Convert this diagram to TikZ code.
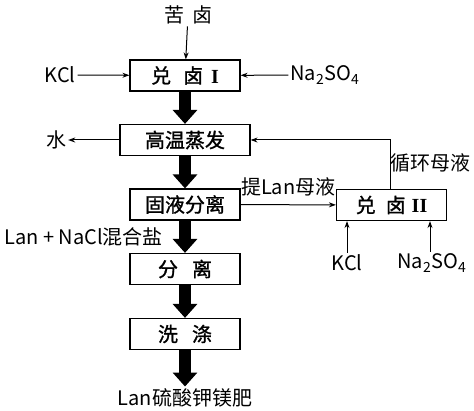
\documentclass[tikz,border=0pt]{standalone}
\usepackage{fontspec}
\setmainfont{Noto Sans CJK SC}
\newfontfamily\boxfont{Noto Sans CJK SC}[FakeBold=1.2]
\newfontfamily\romanfont{Liberation Serif}
\usetikzlibrary{arrows.meta}

\begin{document}
\begin{tikzpicture}[x=1pt,y=-1pt,>={Stealth[length=7pt,width=5pt]},
box/.style={draw,line width=1.2pt,minimum width=110pt,minimum height=31pt,inner sep=0pt,font=\fontsize{20}{24}\boxfont},
lbl/.style={inner sep=2pt,font=\fontsize{20}{24}\selectfont},
fat/.style={line width=12pt,-{Triangle[width=24pt,length=14pt]}},
thin/.style={line width=1pt,->}]
\useasboundingbox(0,0)rectangle(474,411);
% main column
\node[lbl](ku)at(188,15){苦\hspace{8pt}卤};
\node[box](dl1)at(185,75.5){兑\hspace{12pt}卤\hspace{8pt}{\romanfont\bfseries I}};
\node[box,minimum width=130pt](zf)at(185,140){高温蒸发};
\node[box](fl)at(185,204.5){固液分离};
\node[box](fen)at(185,269){分\hspace{14pt}离};
\node[box](xd)at(185,334){洗\hspace{14pt}涤};
\node[lbl](fei)at(185,398){Lan硫酸钾镁肥};
% side inputs
\node[lbl](kcla)at(60,75){KCl};
\node[lbl](naa)at(325,75){Na\textsubscript{2}SO\textsubscript{4}};
\node[lbl](shui)at(56,140){水};
\node[box](dl2)at(391.5,205){兑\hspace{10pt}卤\hspace{6pt}{\romanfont\bfseries II}};
\node[lbl](kclb)at(347,263){KCl};
\node[lbl](nab)at(432,263){Na\textsubscript{2}SO\textsubscript{4}};
% thin arrows
\draw[thin](ku)--(dl1);
\draw[thin](kcla)--(dl1);
\draw[thin](naa)--(dl1);
\draw[thin](zf)--(shui);
\draw[thin](fl)--node[lbl,above,yshift=6pt]{提Lan母液}(dl2);
\draw[thin](dl2.north-|390,0)|-node[lbl,pos=0.27,right,xshift=-2pt]{循环母液}(zf.east);
\draw[thin](kclb.north)--(kclb.north|-dl2.south);
\draw[thin](nab.north-|430,0)--(430,0|-dl2.south);
% thick arrows
\draw[fat](dl1)--(zf);
\draw[fat](zf)--(fl);
\draw[fat](fl)--node[lbl,left,xshift=-14pt]{Lan + NaCl混合盐}(fen);
\draw[fat](fen)--(xd);
\draw[fat](xd)--(fei);
\end{tikzpicture}
\end{document}
